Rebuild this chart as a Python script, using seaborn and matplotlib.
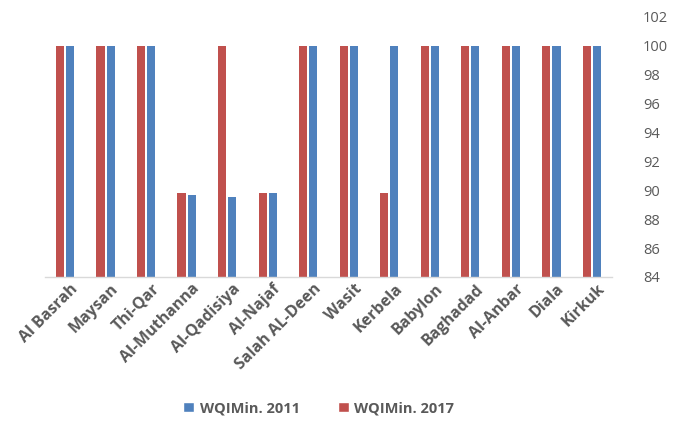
import matplotlib
matplotlib.use("Agg")
import matplotlib.pyplot as plt
import matplotlib.transforms as mtransforms
from matplotlib.patches import Patch
import seaborn as sns
import pandas as pd

# Minimum water quality index by governorate
governorates = ["Al Basrah", "Maysan", "Thi-Qar", "Al-Muthanna", "Al-Qadisiya",
                "Al-Najaf", "Salah AL-Deen", "Wasit", "Kerbela", "Babylon",
                "Baghadad", "Al-Anbar", "Diala", "Kirkuk"]
wqi_2017 = [100, 100, 100, 89.8, 100, 89.8, 100, 100, 89.8, 100, 100, 100, 100, 100]
wqi_2011 = [100, 100, 100, 89.7, 89.5, 89.8, 100, 100, 100, 100, 100, 100, 100, 100]
series_labels = ["WQIMin. 2017", "WQIMin. 2011"]
y_ticks = list(range(84, 103, 2))

red = "#C0504D"
blue = "#4F81BD"

df = pd.DataFrame({
    "Governorate": governorates * 2,
    "Value": wqi_2017 + wqi_2011,
    "Series": [series_labels[0]] * len(governorates) + [series_labels[1]] * len(governorates),
})

sns.set_theme(style="white")
plt.rcParams["font.family"] = ["Open Sans", "DejaVu Sans"]

fig = plt.figure(figsize=(6.78, 4.32), dpi=100)
ax = fig.add_axes([0.066, 0.359, 0.837, 0.602])

sns.barplot(data=df, x="Governorate", y="Value", hue="Series",
            hue_order=series_labels, palette=[red, blue], saturation=1,
            width=0.5, gap=0.2, ax=ax, legend=False,
            edgecolor="none", linewidth=0)

ax.set_ylim(84, 102)
ax.set_yticks(y_ticks)
ax.yaxis.tick_right()
ax.tick_params(axis="y", length=0, labelsize=10.5, labelcolor="#595959", pad=22)
ax.tick_params(axis="x", length=0, pad=3)
ax.set_xlim(-0.5, len(governorates) - 0.5)
ax.set_xlabel("")
ax.set_ylabel("")

# rotated category labels, nudged a few pixels right of each tick
shift = mtransforms.ScaledTranslation(5 / 100, 0, fig.dpi_scale_trans)
for lbl in ax.get_xticklabels():
    lbl.set_rotation(45)
    lbl.set_ha("right")
    lbl.set_rotation_mode("anchor")
    lbl.set_fontweight("bold")
    lbl.set_fontsize(11.5)
    lbl.set_color("#595959")
    lbl.set_transform(lbl.get_transform() + shift)

for side in ["top", "left", "right"]:
    ax.spines[side].set_visible(False)
ax.spines["bottom"].set_color("#D9D9D9")
ax.spines["bottom"].set_linewidth(1)

handles = [Patch(facecolor=blue), Patch(facecolor=red)]
fig.legend(handles, ["WQIMin. 2011", "WQIMin. 2017"], loc="center",
           bbox_to_anchor=(0.47, 0.055), ncol=2, frameon=False,
           handlelength=0.75, handleheight=0.75, handletextpad=0.4,
           columnspacing=2.6,
           prop={"weight": "bold", "size": 10.5})
for t in fig.legends[0].get_texts():
    t.set_color("#595959")

fig.savefig("out.png", dpi=100)
